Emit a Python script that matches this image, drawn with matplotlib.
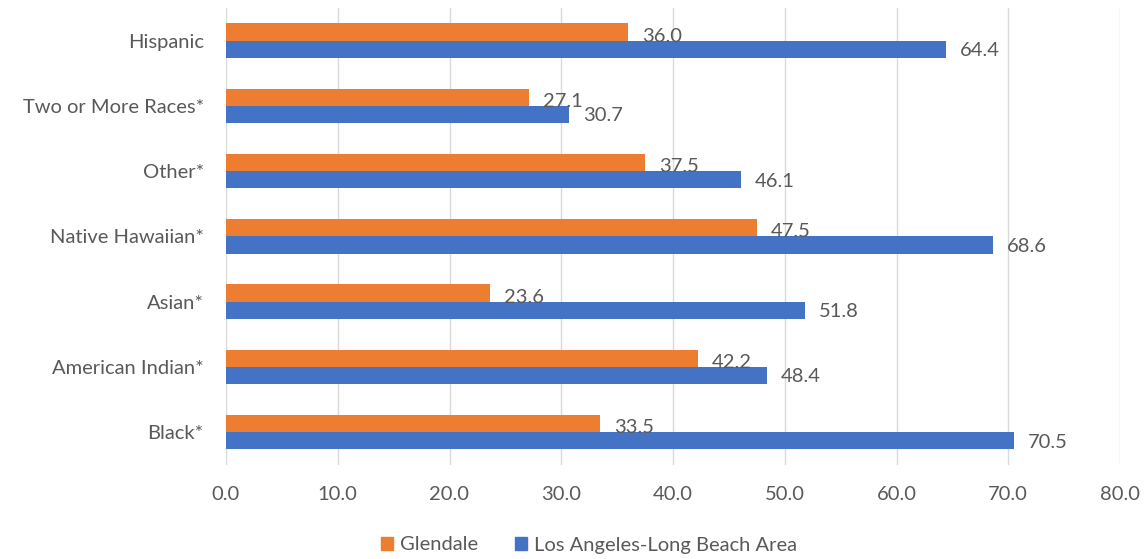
import matplotlib
matplotlib.use("Agg")
import matplotlib.pyplot as plt
import numpy as np
from matplotlib.patches import Patch

categories = ["Hispanic", "Two or More Races*", "Other*", "Native Hawaiian*",
              "Asian*", "American Indian*", "Black*"]
glendale = [36.0, 27.1, 37.5, 47.5, 23.6, 42.2, 33.5]
la_area = [64.4, 30.7, 46.1, 68.6, 51.8, 48.4, 70.5]
series_names = ["Glendale", "Los Angeles-Long Beach Area"]
xticks = [0, 10, 20, 30, 40, 50, 60, 70, 80]

ORANGE = "#ED7D31"
BLUE = "#4472C4"
TXT = "#595959"
FS = 14.5

plt.rcParams['font.family'] = ['Lato', 'DejaVu Sans']

fig = plt.figure(figsize=(11.44, 5.59), dpi=100)
ax = fig.add_axes([226/1144, 1 - 464.7/559, (1120-226)/1144, (464.7-8)/559])

n = len(categories)
ypos = np.arange(n)[::-1]
h = 0.265
ax.barh(ypos + h/2, glendale, height=h, color=ORANGE, zorder=3)
ax.barh(ypos - h/2, la_area, height=h, color=BLUE, zorder=3)

for y, v in zip(ypos, glendale):
    ax.annotate(f"{v:.1f}", (v, y + h/2), xytext=(10, -3), textcoords="offset points",
                ha="left", va="center", fontsize=FS, color=TXT, zorder=4)
for y, v in zip(ypos, la_area):
    ax.annotate(f"{v:.1f}", (v, y - h/2), xytext=(10, -1), textcoords="offset points",
                ha="left", va="center", fontsize=FS, color=TXT, zorder=4)

ax.set_xlim(0, 80)
ax.set_ylim(-0.5, n - 0.5)
ax.set_xticks(xticks)
ax.set_xticklabels([f"{t:.1f}" for t in xticks], fontsize=FS, color=TXT)
ax.set_yticks(ypos)
ax.set_yticklabels(categories, fontsize=FS, color=TXT)
ax.tick_params(axis='both', length=0)
ax.tick_params(axis='x', pad=15)
ax.tick_params(axis='y', pad=16)
ax.xaxis.grid(True, color="#D9D9D9", linewidth=1, zorder=0)
for s in ax.spines.values():
    s.set_visible(False)

handles = [Patch(color=ORANGE), Patch(color=BLUE)]
fig.legend(handles, series_names, loc="center", bbox_to_anchor=(589/1144, 1 - 545/559),
           ncol=2, frameon=False, fontsize=FS, labelcolor=TXT,
           handlelength=0.6, handleheight=0.6, handletextpad=0.35, columnspacing=1.8)

fig.savefig("out.png", dpi=100)
